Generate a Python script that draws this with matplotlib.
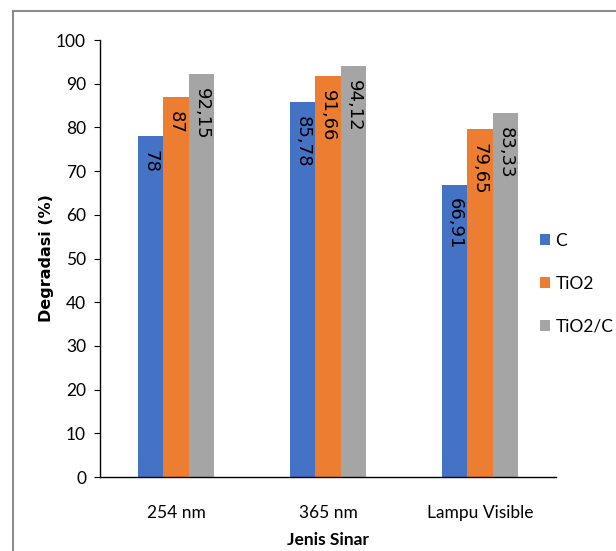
import matplotlib.pyplot as plt
import numpy as np
from matplotlib.patches import Patch
from matplotlib.lines import Line2D

# data
kategori = ['254 nm', '365 nm', 'Lampu Visible']
seri = ['C', 'TiO2', 'TiO2/C']
nilai_c = [78, 85.78, 66.91]
nilai_tio2 = [87, 91.66, 79.65]
nilai_tio2_c = [92.15, 94.12, 83.33]
warna = ['#4472C4', '#ED7D31', '#A5A5A5']
yticks = [0, 10, 20, 30, 40, 50, 60, 70, 80, 90, 100]

plt.rcParams['font.family'] = ['Lato', 'DejaVu Sans']


def label(v):
    s = ('%.2f' % v).rstrip('0').rstrip('.')
    return s.replace('.', ',')


def main():
    fig = plt.figure(figsize=(6.16, 5.51), dpi=100)
    ax = fig.add_axes([0.1623, 0.1343, 0.7403, 0.7931])

    x = np.arange(len(kategori))
    w = 0.168
    semua = [nilai_c, nilai_tio2, nilai_tio2_c]
    for i, vals in enumerate(semua):
        pos = x + (i - 1) * w
        ax.bar(pos, vals, width=w, color=warna[i], zorder=2)
        for px, v in zip(pos, vals):
            ax.annotate(label(v), (px, v), xytext=(0, -10), textcoords='offset points',
                        rotation=270, ha='center', va='top', fontsize=13,
                        family=['DejaVu Sans'], color='black')

    ax.set_xlim(-0.5, 2.5)
    ax.set_ylim(0, 100)
    ax.set_yticks(yticks)
    ax.set_xticks(x)
    ax.set_xticklabels(kategori)
    ax.tick_params(axis='x', length=0, pad=20, labelsize=12.5)
    ax.tick_params(axis='y', length=4, pad=6, labelsize=12.5)
    for s in ['top', 'right']:
        ax.spines[s].set_visible(False)
    ax.spines['left'].set_linewidth(1)
    ax.spines['bottom'].set_linewidth(1)

    ax.set_ylabel('Degradasi (%)', fontsize=11.5, fontweight='bold',
                  family=['DejaVu Sans'], labelpad=1.5)
    ax.set_xlabel('Jenis Sinar', fontsize=12.5, fontweight='bold', labelpad=8)

    handles = [Patch(facecolor=c) for c in warna]
    fig.legend(handles, seri, loc='center left', bbox_to_anchor=(0.851, 0.485),
               frameon=False, fontsize=12.5, handlelength=0.6, handleheight=0.6,
               handletextpad=0.3, labelspacing=1.55)

    # grey frame of the chart area
    fig.add_artist(Line2D([13 / 616, 13 / 616], [0, 1 - 11 / 551], color='#8c8c8c', lw=1.5))
    fig.add_artist(Line2D([13 / 616, 1], [1 - 11 / 551, 1 - 11 / 551], color='#8c8c8c', lw=1.5))

    fig.savefig('out.png', dpi=100)


if __name__ == "__main__":
    main()
